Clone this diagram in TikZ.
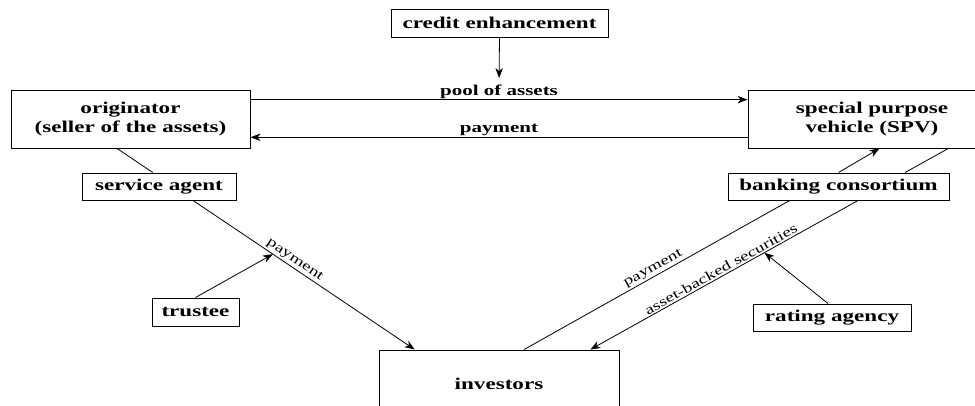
\documentclass[tikz,border=0pt]{standalone}
\usepackage{fontspec}
\setmainfont{Liberation Serif}[FakeStretch=1.4]
\usetikzlibrary{arrows.meta,calc}
\begin{document}
\begin{tikzpicture}[x=1pt,y=-1pt,
  box/.style={draw, line width=1pt, inner sep=0pt, font=\fontsize{16.5}{19}\selectfont\bfseries, align=center},
  lbl/.style={font=\fontsize{15}{17}\selectfont\bfseries, inner sep=0pt},
  slbl/.style={font=\fontsize{13.5}{15}\selectfont, inner sep=1.5pt, sloped, above},
  conn/.style={line width=0.8pt},
  arr/.style={conn, -{Stealth[length=10pt,width=7.5pt,inset=3pt]}}]
\useasboundingbox (0,0) rectangle (975,405);
\clip (0,0) rectangle (975,405);
% boxes
\node[box, minimum width=239pt, minimum height=58pt] (orig) at (130.5,119) {originator\\(seller of the assets)};
\node[box, minimum width=217pt, minimum height=28pt] (credit) at (499.5,23) {credit enhancement};
\node[box, minimum width=248pt, minimum height=58pt] (spv) at (872,119) {special purpose\\vehicle (SPV)};
\node[box, minimum width=154pt, minimum height=27pt] (sa) at (159,186.5) {service agent};
\node[box, minimum width=221pt, minimum height=27pt] (bank) at (838.5,186.5) {banking consortium};
\node[box, minimum width=87pt, minimum height=28pt] (trustee) at (195.5,312) {trustee};
\node[box, minimum width=158pt, minimum height=27pt] (rating) at (832,317.5) {rating agency};
\node[box, minimum width=240pt, minimum height=68pt] (inv) at (499,384) {investors};
% top horizontal flows
\draw[arr] ($(orig.north east)!0.172!(orig.south east)$) -- node[lbl, above=1pt] (pool) {pool of assets} ($(spv.north west)!0.172!(spv.south west)$);
\draw[arr] ($(spv.north west)!0.81!(spv.south west)$) -- node[lbl, above=1pt] (pay1) {payment} ($(orig.north east)!0.81!(orig.south east)$);
\draw[arr, shorten >=6pt] (credit.south) -- (pool.north);
% left side
\draw[conn] ($(orig.south west)!0.444!(orig.south east)$) -- ($(sa.north west)!0.46!(sa.north east)$);
\draw[arr] ($(sa.south west)!0.72!(sa.south east)$) -- node[slbl, pos=0.44] (pay2) {payment} coordinate[pos=0.36] (tp) ($(inv.north west)!0.15!(inv.north east)$);
\draw[arr] (trustee.north) -- (tp);
% right side
\draw[arr] (bank.north) -- ($(spv.south west)!0.53!(spv.south east)$);
\draw[conn] ($(spv.south west)!0.806!(spv.south east)$) -- ($(bank.north west)!0.80!(bank.north east)$);
\draw[conn] ($(inv.north west)!0.604!(inv.north east)$) -- node[slbl, pos=0.5] (pay3) {payment} ($(bank.south west)!0.28!(bank.south east)$);
\draw[arr] ($(bank.south west)!0.588!(bank.south east)$) -- node[slbl, pos=0.5] (abs) {asset-backed securities} coordinate[pos=0.35] (rp) ($(inv.north west)!0.879!(inv.north east)$);
\draw[arr] ($(rating.north west)!0.475!(rating.north east)$) -- (rp);
\end{tikzpicture}
\end{document}
